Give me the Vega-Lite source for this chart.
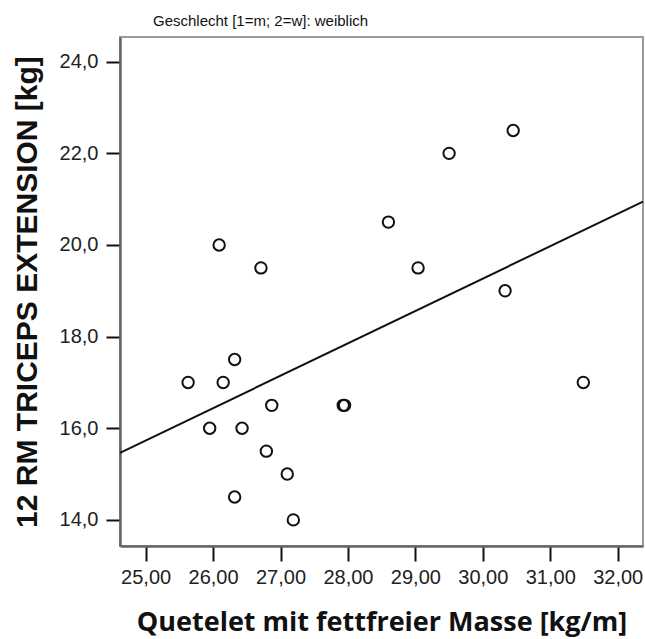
{
  "$schema": "https://vega.github.io/schema/vega-lite/v6.json",
  "width": 523,
  "height": 509,
  "autosize": {"type": "none"},
  "padding": {"left": 120, "top": 37, "right": 2, "bottom": 93},
  "background": "white",
  "title": {
    "text": "Geschlecht [1=m; 2=w]: weiblich",
    "anchor": "start",
    "frame": "group",
    "dx": 33,
    "offset": 8,
    "font": "Liberation Sans",
    "fontSize": 15,
    "fontWeight": "normal",
    "color": "#111"
  },
  "config": {
    "view": {"stroke": "#9a9a9a", "strokeWidth": 2},
    "axis": {"grid": false}
  },
  "data": {
    "values": [
      {"quetelet": 25.63, "triceps": 17.0},
      {"quetelet": 25.95, "triceps": 16.0},
      {"quetelet": 26.09, "triceps": 20.0},
      {"quetelet": 26.15, "triceps": 17.0},
      {"quetelet": 26.32, "triceps": 17.5},
      {"quetelet": 26.32, "triceps": 14.5},
      {"quetelet": 26.43, "triceps": 16.0},
      {"quetelet": 26.71, "triceps": 19.5},
      {"quetelet": 26.79, "triceps": 15.5},
      {"quetelet": 26.87, "triceps": 16.5},
      {"quetelet": 27.1, "triceps": 15.0},
      {"quetelet": 27.19, "triceps": 14.0},
      {"quetelet": 27.93, "triceps": 16.5},
      {"quetelet": 27.95, "triceps": 16.5},
      {"quetelet": 28.6, "triceps": 20.5},
      {"quetelet": 29.04, "triceps": 19.5},
      {"quetelet": 29.5, "triceps": 22.0},
      {"quetelet": 30.45, "triceps": 22.5},
      {"quetelet": 30.33, "triceps": 19.0},
      {"quetelet": 31.49, "triceps": 17.0}
    ]
  },
  "encoding": {
    "x": {
      "field": "quetelet",
      "type": "quantitative",
      "scale": {"domain": [24.62, 32.375], "nice": false, "zero": false},
      "axis": {
        "title": "Quetelet mit fettfreier Masse [kg/m]",
        "values": [25, 26, 27, 28, 29, 30, 31, 32],
        "labelExpr": "replace(format(datum.value, '.2f'), '.', ',')",
        "domainColor": "#666",
        "domainWidth": 2.5,
        "tickColor": "#111",
        "tickWidth": 2,
        "tickSize": 15,
        "labelFont": "Liberation Sans",
        "labelFontSize": 20,
        "labelColor": "#222",
        "labelPadding": 6,
        "titleFont": "Open Sans",
        "titleFontSize": 27,
        "titleFontWeight": "bold",
        "titleColor": "#111",
        "titleX": 261.5,
        "titleY": 76,
        "titleBaseline": "middle",
        "titleAlign": "center"
      }
    },
    "y": {
      "field": "triceps",
      "type": "quantitative",
      "scale": {"domain": [13.43, 24.54], "nice": false, "zero": false},
      "axis": {
        "title": "12 RM TRICEPS EXTENSION [kg]",
        "values": [14, 16, 18, 20, 22, 24],
        "labelExpr": "replace(format(datum.value, '.1f'), '.', ',')",
        "domainColor": "#666",
        "domainWidth": 2.5,
        "tickColor": "#111",
        "tickWidth": 2,
        "tickSize": 14,
        "labelFont": "Liberation Sans",
        "labelFontSize": 20,
        "labelColor": "#222",
        "labelPadding": 8,
        "titleFont": "Liberation Sans",
        "titleFontSize": 30,
        "titleFontWeight": "bold",
        "titleColor": "#111",
        "titleX": -93,
        "titleY": 254.5,
        "titleAngle": -90,
        "titleBaseline": "middle",
        "titleAlign": "center"
      }
    }
  },
  "layer": [
    {
      "mark": {"type": "point", "shape": "circle", "filled": false, "stroke": "#111", "strokeWidth": 2, "size": 130, "opacity": 1}
    },
    {
      "transform": [
        {"regression": "triceps", "on": "quetelet", "extent": [24.62, 32.375]}
      ],
      "mark": {"type": "line", "color": "#111", "strokeWidth": 2}
    }
  ]
}
